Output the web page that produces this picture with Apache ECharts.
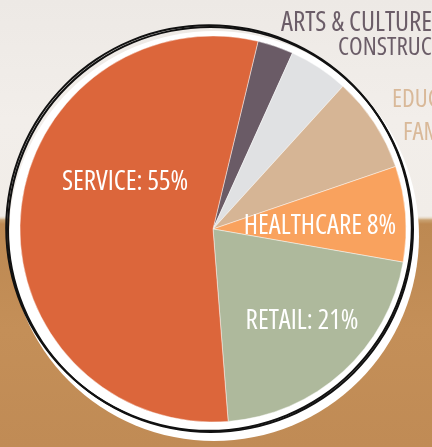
<!DOCTYPE html>
<html>
<head>
<meta charset="utf-8">
<script src="https://cdn.jsdelivr.net/npm/echarts@6/dist/echarts.min.js"></script>
<style>
  html, body { margin: 0; padding: 0; }
  body {
    width: 432px; height: 447px; overflow: hidden;
    background: linear-gradient(to bottom, #ede9e5 0px, #f2eeea 120px, #f1ede8 216px, #e6d8c4 218px, #c9a272 220px, #bd8952 224px, #c48f58 330px, #c08b55 447px);
  }
  #chart { width: 432px; height: 447px; }
</style>
</head>
<body>
<div id="chart"></div>
<script>
// ---- data ----
const categories = ['Arts & Culture', 'Construction', 'Education', 'Healthcare', 'Retail', 'Service'];
const shares = [3, 5, 8, 8, 21, 55];
const labelLines = [
  ['ARTS & CULTURE'],
  ['CONSTRUCTION'],
  ['EDUCATION', 'FAMILY'],
  ['HEALTHCARE 8%'],
  ['RETAIL: 21%'],
  ['SERVICE: 55%']
];

// ---- styles / layout ----
const sliceColors = ['#6a5b66', '#e0e1e3', '#d6b595', '#f9a25e', '#aeb99c', '#dc663b'];
const labelColors = ['#6b5d68', '#6b5d68', '#d9b999', '#ffffff', '#ffffff', '#ffffff'];
const FONT = '"Open Sans", "DejaVu Sans", sans-serif';
const STRETCH = 'normal extra-condensed';
const labelPlace = [
  { x: 281, y: 23, align: 'left', size: 27 },
  { x: 338, y: 48, align: 'left', size: 25 },
  { x: 392, y: 116, align: 'left', size: 25 },
  { x: 320, y: 226, align: 'center', size: 27 },
  { x: 302, y: 321, align: 'center', size: 27 },
  { x: 125, y: 182, align: 'center', size: 27 }
];

const pieData = categories.map((name, i) => ({
  name: name,
  value: shares[i],
  itemStyle: { color: sliceColors[i] },
  label: {
    color: labelColors[i],
    fontSize: labelPlace[i].size,
    rich: {
      a: { color: labelColors[i], fontSize: labelPlace[i].size, fontFamily: FONT, fontWeight: STRETCH, lineHeight: 33 },
      b: { color: labelColors[i], fontSize: labelPlace[i].size, fontFamily: FONT, fontWeight: STRETCH, lineHeight: 33, padding: [0, 0, 0, 11] }
    }
  }
}));

const chart = echarts.init(document.getElementById('chart'), null, { renderer: 'canvas' });
chart.setOption({
  animation: false,
  backgroundColor: 'transparent',
  series: [
    {
      type: 'pie', silent: true, z: 1,
      center: [214, 236], radius: 205,
      label: { show: false }, labelLine: { show: false },
      itemStyle: { color: '#ffffff', borderWidth: 0 },
      emphasis: { disabled: true },
      data: [{ value: 1, name: 'ring' }]
    },
    {
      type: 'pie', z: 3,
      center: [213, 229], radius: 193,
      startAngle: 76.5, clockwise: true,
      avoidLabelOverlap: false,
      itemStyle: { borderColor: 'rgba(255,255,255,0.55)', borderWidth: 0.8 },
      label: {
        show: true,
        position: 'inside',
        fontFamily: FONT,
        fontWeight: STRETCH,
        formatter: function (p) {
          const lines = labelLines[p.dataIndex];
          return lines.map((t, k) => '{' + (k === 0 ? 'a' : 'b') + '|' + t + '}').join('\n');
        }
      },
      labelLine: { show: false },
      labelLayout: function (params) {
        const lp = labelPlace[params.dataIndex];
        return { x: lp.x, y: lp.y, align: lp.align, verticalAlign: 'middle', hideOverlap: false, moveOverlap: null };
      },
      emphasis: { disabled: true },
      data: pieData
    },
    {
      type: 'pie', silent: true, z: 4,
      center: [209, 228], radius: [201.8, 203.8],
      label: { show: false }, labelLine: { show: false },
      itemStyle: { color: '#111111', borderWidth: 0 },
      emphasis: { disabled: true },
      data: [{ value: 1, name: 'outline' }]
    },
    {
      type: 'pie', silent: true, z: 4,
      center: [210.5, 229.5], radius: [201.5, 203.5],
      label: { show: false }, labelLine: { show: false },
      itemStyle: { color: '#111111', borderWidth: 0 },
      emphasis: { disabled: true },
      data: [{ value: 1, name: 'outline2' }]
    }
  ]
});
</script>
</body>
</html>
